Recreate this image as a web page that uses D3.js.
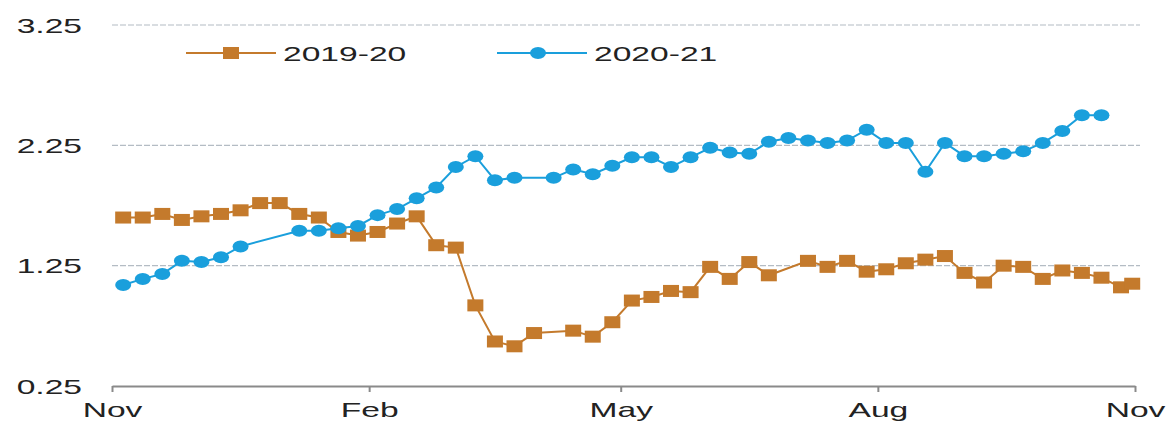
<!DOCTYPE html>
<html>
<head>
<meta charset="utf-8">
<script src="https://cdn.jsdelivr.net/npm/d3@7"></script>
<style>
  body{margin:0;background:#fff;}
  text{font-family:"Liberation Sans",Arial,sans-serif;fill:#222;}
</style>
</head>
<body>
<svg id="svg" width="1168" height="423"></svg>
<script>
// weekly readings, season runs Nov -> Nov (month-day strings)
var weeks1920=["11-05","11-12","11-19","11-26","12-03","12-10","12-17","12-24","12-31","01-07","01-14","01-21","01-28","02-04","02-11","02-18","02-25","03-03","03-10","03-17","03-24","03-31","04-14","04-21","04-28","05-05","05-12","05-19","05-26","06-02","06-09","06-16","06-23","07-07","07-14","07-21","07-28","08-04","08-11","08-18","08-25","09-01","09-08","09-15","09-22","09-29","10-06","10-13","10-20","10-27","10-31"];
var values1920=[1.65,1.65,1.68,1.63,1.66,1.68,1.71,1.77,1.77,1.68,1.65,1.53,1.50,1.53,1.60,1.66,1.42,1.40,0.92,0.62,0.58,0.69,0.71,0.66,0.78,0.96,0.99,1.04,1.03,1.24,1.14,1.28,1.17,1.29,1.24,1.29,1.20,1.22,1.27,1.30,1.33,1.19,1.11,1.25,1.24,1.14,1.21,1.19,1.15,1.07,1.10];

var weeks2021=["11-05","11-12","11-19","11-26","12-03","12-10","12-17","01-07","01-14","01-21","01-28","02-04","02-11","02-18","02-25","03-03","03-10","03-17","03-24","04-07","04-14","04-21","04-28","05-05","05-12","05-19","05-26","06-02","06-09","06-16","06-23","06-30","07-07","07-14","07-21","07-28","08-04","08-11","08-18","08-25","09-01","09-08","09-15","09-22","09-29","10-06","10-13","10-20"];
var values2021=[1.09,1.14,1.18,1.29,1.28,1.32,1.41,1.54,1.54,1.56,1.58,1.67,1.72,1.81,1.90,2.07,2.16,1.96,1.98,1.98,2.05,2.01,2.08,2.15,2.15,2.07,2.15,2.23,2.19,2.18,2.28,2.31,2.29,2.27,2.29,2.38,2.27,2.27,2.03,2.27,2.16,2.16,2.18,2.20,2.27,2.37,2.50,2.50];

var seriesNames=["2019-20","2020-21"];
var seriesColors=["#c47a2c","#1a9fdc"];
var yTicks=[0.25,1.25,2.25,3.25];
var xTickLabels=["Nov","Feb","May","Aug","Nov"];
var xTickDates=["2019-11-01","2020-02-01","2020-05-01","2020-08-01","2020-11-01"];

var marginLeft=112, marginTop=25, marginRight=33, marginBottom=37;
var width=1168-marginLeft-marginRight;
var height=423-marginTop-marginBottom;
var stretch=1.6; // text in the source is squeezed wide

// map month-day onto the common season axis
function seasonDate(md){
    var m=+md.slice(0,2), d=+md.slice(3);
    return new Date(m>=11?2019:2020,m-1,d);
}

var series=[
    {name:seriesNames[0],color:seriesColors[0],shape:"square",
     data:weeks1920.map((w,i)=>({date:seasonDate(w),value:values1920[i]}))},
    {name:seriesNames[1],color:seriesColors[1],shape:"circle",
     data:weeks2021.map((w,i)=>({date:seasonDate(w),value:values2021[i]}))}
];

var x=d3.scaleTime()
    .domain([new Date(2019,10,1),new Date(2020,10,1)])
    .range([0,width]);
var y=d3.scaleLinear().domain([0.25,3.25]).range([height,0]);

var svg=d3.select("#svg").append("g")
        .attr("transform","translate("+marginLeft+","+marginTop+")");

//gridlines
svg.selectAll(".grid")
    .data(yTicks.filter(d=>d>0.25)).enter().append("line")
        .attr("x1",0).attr("x2",width+5)
        .attr("y1",d=>y(d)).attr("y2",d=>y(d))
        .attr("stroke","#b4bcc4")
        .attr("stroke-width",1.2)
        .attr("stroke-dasharray","6,2");

//y labels
svg.selectAll(".ylab")
    .data(yTicks).enter().append("text")
        .attr("text-anchor","end")
        .attr("dy","0.36em")
        .style("font-size","21px")
        .attr("transform",d=>"translate(-30,"+y(d)+") scale("+stretch+",1)")
        .text(d=>d.toFixed(2));

//x axis
var xAxis=svg.append("g")
        .attr("transform","translate(0,"+height+")")
    .call(d3.axisBottom(x)
        .tickValues(xTickDates.map(d=>d3.timeParse("%Y-%m-%d")(d)))
        .tickFormat((d,i)=>xTickLabels[i])
        .tickSize(6)
        .tickSizeOuter(0));
xAxis.select(".domain").attr("stroke","#8a8a8a").attr("stroke-width",2);
xAxis.selectAll(".tick line").attr("stroke","#8a8a8a").attr("stroke-width",2);
xAxis.selectAll(".tick text")
        .attr("y",0).attr("dy",0)
        .style("font-size","21px")
        .style("fill","#222")
        .attr("transform","translate(0,31) scale("+stretch+",1)");

//lines and markers
var line=d3.line().x(d=>x(d.date)).y(d=>y(d.value));

series.forEach(s=>{
    svg.append("path")
        .datum(s.data)
        .attr("fill","none")
        .attr("stroke",s.color)
        .attr("stroke-width",2)
        .attr("d",line);
    if (s.shape==="square") {
        svg.selectAll(null)
            .data(s.data).enter().append("rect")
                .attr("x",d=>x(d.date)-8)
                .attr("y",d=>y(d.value)-6)
                .attr("width",16)
                .attr("height",12)
                .attr("fill",s.color);
    } else {
        svg.selectAll(null)
            .data(s.data).enter().append("ellipse")
                .attr("cx",d=>x(d.date))
                .attr("cy",d=>y(d.value))
                .attr("rx",8)
                .attr("ry",6)
                .attr("fill",s.color);
    }
});

//legend
var legend=svg.selectAll(".legend")
    .data(series).enter().append("g")
        .attr("transform",(d,i)=>"translate("+(74+i*311)+",28)");
legend.append("line")
        .attr("x1",0).attr("x2",90)
        .attr("stroke",d=>d.color)
        .attr("stroke-width",2);
legend.filter(d=>d.shape==="square").append("rect")
        .attr("x",37).attr("y",-6).attr("width",16).attr("height",12)
        .attr("fill",d=>d.color);
legend.filter(d=>d.shape==="circle").append("ellipse")
        .attr("cx",41).attr("rx",8).attr("ry",6)
        .attr("fill",d=>d.color);
legend.append("text")
        .attr("dy","0.36em")
        .style("font-size","21px")
        .attr("transform","translate(97,0) scale("+stretch+",1)")
        .text(d=>d.name);
</script>
</body>
</html>
